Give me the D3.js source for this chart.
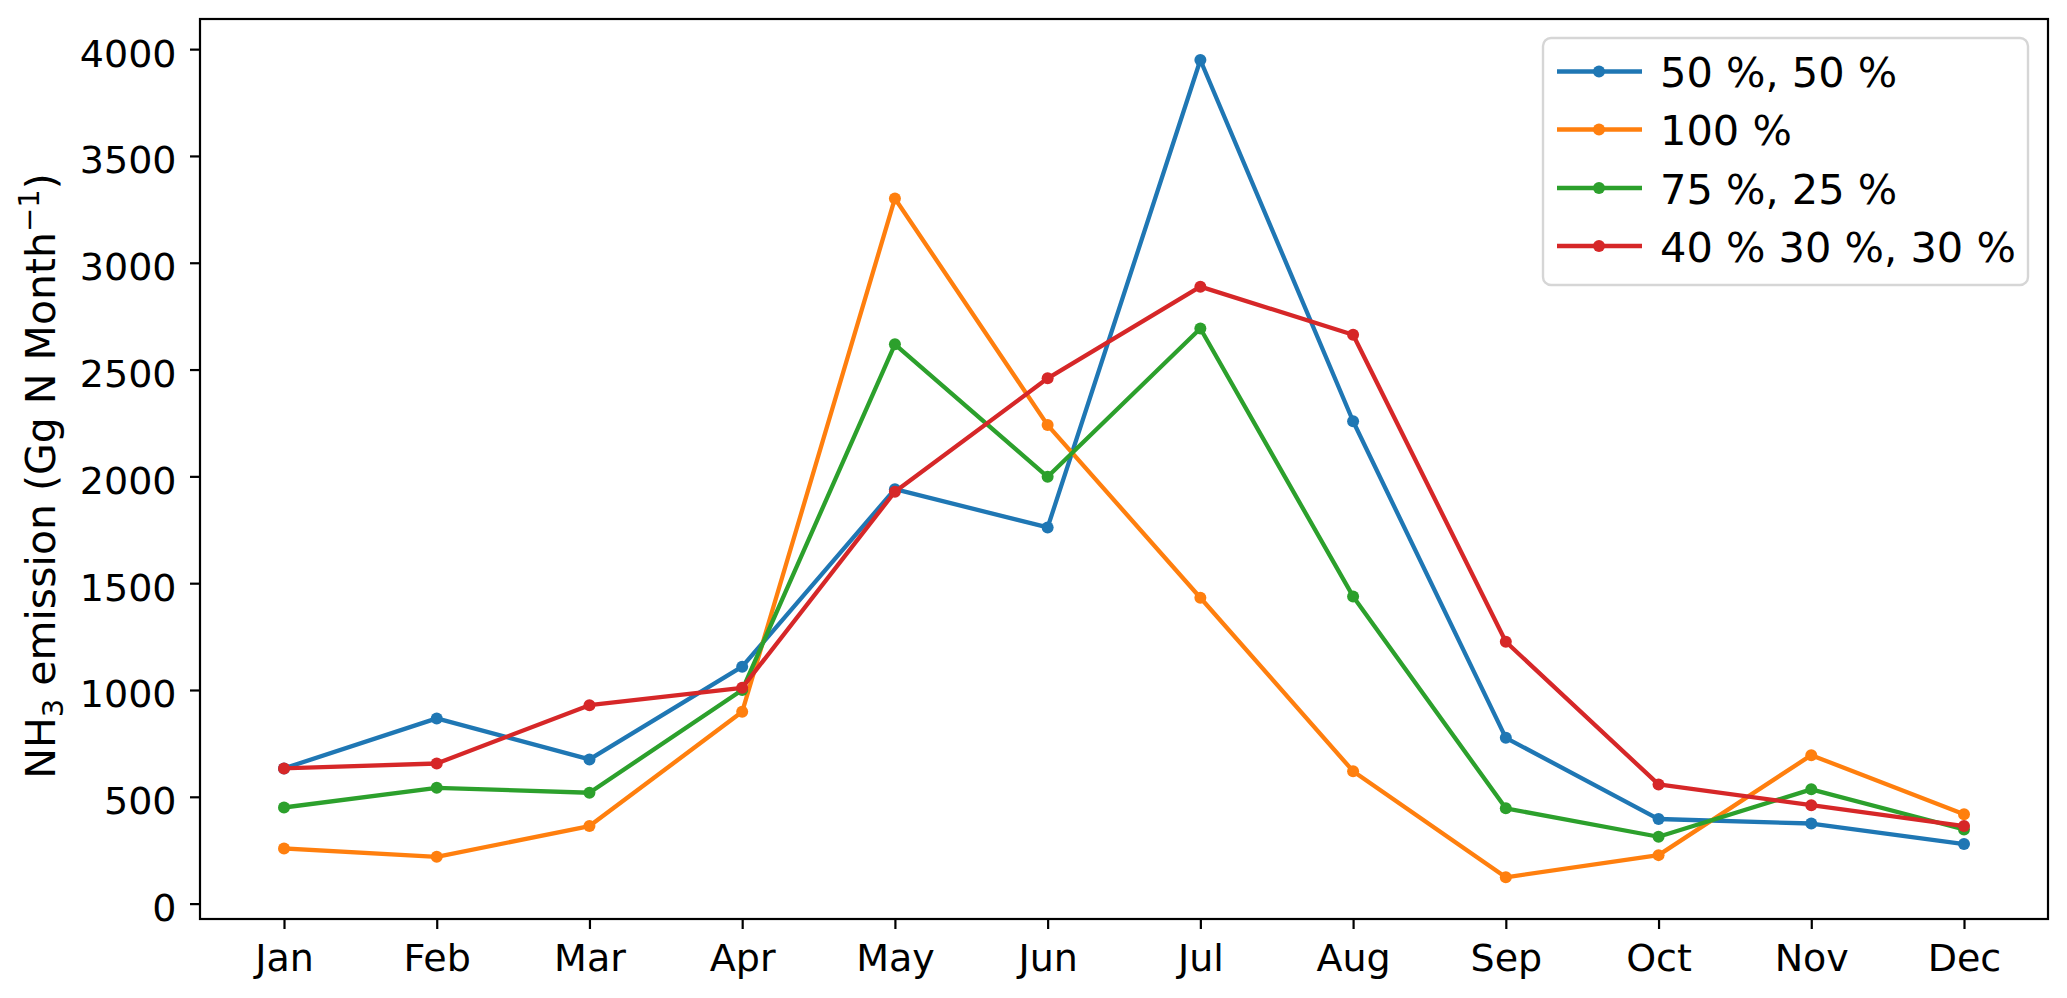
<!DOCTYPE html>
<html>
<head>
<meta charset="utf-8">
<script src="https://cdn.jsdelivr.net/npm/d3@7"></script>
<style>
  html, body { margin: 0; padding: 0; background: #ffffff; }
  svg { display: block; }
  text { font-family: "DejaVu Sans", sans-serif; fill: #000; }
</style>
</head>
<body>
<svg id="chart" width="2067" height="998"></svg>
<script>
// ---- data ----
const months = ["Jan","Feb","Mar","Apr","May","Jun","Jul","Aug","Sep","Oct","Nov","Dec"];
const seriesNames = ["50 %, 50 %", "100 %", "75 %, 25 %", "40 % 30 %, 30 %"];
const seriesColors = ["#1f77b4", "#ff7f0e", "#2ca02c", "#d62728"];
const s5050  = [633, 867, 675, 1109, 1940, 1761, 3949, 2258, 776, 396, 375, 279];
const s100   = [258, 219, 363, 898, 3301, 2240, 1432, 620, 123, 227, 695, 418];
const s7525  = [450, 542, 519, 1000, 2618, 1998, 2692, 1438, 446, 313, 535, 347];
const s403030= [633, 656, 929, 1010, 1928, 2459, 2888, 2663, 1226, 558, 461, 363];
const seriesValues = [s5050, s100, s7525, s403030];
const yTicks = [0, 500, 1000, 1500, 2000, 2500, 3000, 3500, 4000];

// ---- layout ----
const plot = { left: 200, right: 2048, top: 19, bottom: 919 };
const svg = d3.select("#chart");

const x = d3.scalePoint().domain(months).range([284, 1964]);
const y = d3.scaleLinear().domain([-72, 4141]).range([plot.bottom, plot.top]);

// lines
const line = d3.line().x((d, i) => x(months[i])).y(d => y(d));
const g = svg.append("g");
seriesValues.forEach((vals, si) => {
  g.append("path")
    .datum(vals)
    .attr("d", line)
    .attr("fill", "none")
    .attr("stroke", seriesColors[si])
    .attr("stroke-width", 4.3)
    .attr("stroke-linejoin", "round")
    .attr("stroke-linecap", "square");
  g.selectAll(null)
    .data(vals)
    .enter().append("circle")
    .attr("cx", (d, i) => x(months[i]))
    .attr("cy", d => y(d))
    .attr("r", 6)
    .attr("fill", seriesColors[si]);
});

// axes
const yAxis = svg.append("g")
  .attr("transform", `translate(${plot.left},0)`)
  .call(d3.axisLeft(y).tickValues(yTicks).tickSize(10).tickPadding(13.5).tickFormat(d3.format("d")));
yAxis.select(".domain").remove();
yAxis.selectAll(".tick line").attr("stroke", "#000").attr("stroke-width", 2.2);
yAxis.selectAll(".tick text")
  .attr("dy", 17)
  .style("font-family", "'DejaVu Sans', sans-serif")
  .style("font-size", "38px")
  .attr("fill", "#000");

const xAxis = svg.append("g")
  .attr("transform", `translate(0,${plot.bottom})`)
  .call(d3.axisBottom(x).tickSize(10));
xAxis.select(".domain").remove();
xAxis.selectAll(".tick line").attr("stroke", "#000").attr("stroke-width", 2.2);
xAxis.selectAll(".tick text")
  .attr("y", 52)
  .attr("dy", 0)
  .style("font-family", "'DejaVu Sans', sans-serif")
  .style("font-size", "38px")
  .attr("fill", "#000");

// frame
svg.append("rect")
  .attr("x", plot.left).attr("y", plot.top)
  .attr("width", plot.right - plot.left).attr("height", plot.bottom - plot.top)
  .attr("fill", "none").attr("stroke", "#000").attr("stroke-width", 2.2);

// y label
const yl = svg.append("text")
  .attr("transform", "translate(55,476) rotate(-90)")
  .attr("text-anchor", "middle")
  .style("font-size", "41px");
yl.append("tspan").text("NH");
yl.append("tspan").attr("font-size", "29px").attr("dy", 8).text("3");
yl.append("tspan").attr("dy", -8).text(" emission (Gg N Month");
yl.append("tspan").attr("font-size", "29px").attr("dy", -16).text("\u22121");
yl.append("tspan").attr("dy", 16).text(")");

// legend
const leg = svg.append("g");
leg.append("rect")
  .attr("x", 1543).attr("y", 38).attr("width", 485).attr("height", 247)
  .attr("rx", 8).attr("ry", 8)
  .attr("fill", "#fff").attr("stroke", "#d6d6d6").attr("stroke-width", 2.4);
const rowY = [71.5, 129.5, 188, 246];
seriesNames.forEach((name, i) => {
  leg.append("line")
    .attr("x1", 1557).attr("x2", 1642).attr("y1", rowY[i]).attr("y2", rowY[i])
    .attr("stroke", seriesColors[i]).attr("stroke-width", 4.3);
  leg.append("circle")
    .attr("cx", 1599).attr("cy", rowY[i]).attr("r", 6).attr("fill", seriesColors[i]);
  leg.append("text")
    .attr("x", 1660).attr("y", rowY[i] + 15.5)
    .style("font-size", "41.5px")
    .text(name);
});
</script>
</body>
</html>
